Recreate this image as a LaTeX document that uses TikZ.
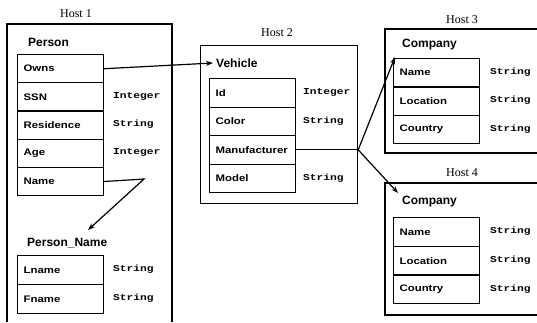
\documentclass[tikz,border=0pt]{standalone}
\usepackage{fontspec}
\setmainfont{Liberation Serif}
\newfontfamily\fldfont[FakeStretch=1.2]{Liberation Sans}
\newfontfamily\ttlfont{Liberation Sans}
\newfontfamily\typfont[FakeStretch=1.25]{Liberation Mono}
\usetikzlibrary{arrows.meta}
\begin{document}
\begin{tikzpicture}[x=1pt,y=-1pt,
  hostline/.style={line width=1.2pt},
  hostlbl/.style={font=\fontsize{12}{12}\selectfont, inner sep=0pt},
  ttl/.style={font=\ttlfont\bfseries\fontsize{12}{12}\selectfont, anchor=west, inner xsep=1pt, inner ysep=1pt},
  cell/.style={draw, line width=1.2pt, anchor=north west, minimum width=86pt, text width=74pt,
     inner xsep=6pt, inner ysep=0pt, align=left, font=\fldfont\bfseries\fontsize{9.5}{10}\selectfont},
  typ/.style={anchor=west, inner sep=0pt, font=\typfont\bfseries\fontsize{9}{9}\selectfont},
  conn/.style={line width=1.2pt, -{Stealth[length=7pt,width=5pt]}}]
\useasboundingbox (0,0) rectangle (537,322);

% ---------------- Host 1 ----------------
\node[hostlbl] (h1lbl) at (76,14) {Host 1};
\draw[hostline] (7,322) -- (7,24) -- (172,24) -- (172,322);
\node[ttl] (person) at (27,42) {Person};
\begin{scope}[every node/.append style={minimum height=28.2pt}]
\node[cell] (owns) at (17,54) {Owns};
\node[cell] (ssn) at (17,82.2) {SSN};
\node[cell] (res) at (17,110.4) {Residence};
\node[cell] (age) at (17,138.6) {Age};
\node[cell] (name) at (17,166.8) {Name};
\end{scope}
\node[typ] (tssn) at (113,96.3) {Integer};
\node[typ] (tres) at (113,124.5) {String};
\node[typ] (tage) at (113,152.7) {Integer};

\node[ttl] (pn) at (26,243) {Person\_Name};
\begin{scope}[every node/.append style={minimum height=29pt}]
\node[cell] (lname) at (17,255) {Lname};
\node[cell] (fname) at (17,284) {Fname};
\end{scope}
\node[typ] (tlname) at (113,269.5) {String};
\node[typ] (tfname) at (113,298.5) {String};

% ---------------- Host 2 ----------------
\node[hostlbl] (h2lbl) at (277,33) {Host 2};
\node[draw, line width=1.2pt, anchor=north west, minimum width=157pt, minimum height=158pt, inner sep=0pt] (h2) at (200,45) {};
\node[ttl, inner xsep=3pt] (vehicle) at (213,63) {Vehicle};
\begin{scope}[every node/.append style={minimum height=28.5pt}]
\node[cell] (vid) at (209,78) {Id};
\node[cell] (vcolor) at (209,106.5) {Color};
\node[cell] (manuf) at (209,135) {Manufacturer};
\node[cell] (model) at (209,163.5) {Model};
\end{scope}
\node[typ] (tid) at (303,92.25) {Integer};
\node[typ] (tcolor) at (303,120.75) {String};
\node[typ] (tmodel) at (303,177.75) {String};

% ---------------- Host 3 ----------------
\node[hostlbl] (h3lbl) at (462,20) {Host 3};
\draw[hostline] (537,29) -- (385,29) -- (385,153) -- (537,153);
\node[ttl] (comp3) at (401,45) {Company};
\begin{scope}[every node/.append style={minimum height=28.3pt, minimum width=85pt}]
\node[cell] (c3name) at (393,58) {Name};
\node[cell] (c3loc) at (393,86.3) {Location};
\node[cell] (c3cty) at (393,114.6) {Country};
\end{scope}
\node[typ] (t3a) at (490,72.2) {String};
\node[typ] (t3b) at (490,100.5) {String};
\node[typ] (t3c) at (490,128.8) {String};

% ---------------- Host 4 ----------------
\node[hostlbl] (h4lbl) at (462,173) {Host 4};
\draw[hostline] (537,183) -- (385,183) -- (385,315) -- (537,315);
\node[ttl] (comp4) at (401,202) {Company};
\begin{scope}[every node/.append style={minimum height=28.7pt, minimum width=85pt}]
\node[cell] (c4name) at (393,217) {Name};
\node[cell] (c4loc) at (393,245.7) {Location};
\node[cell] (c4cty) at (393,274.4) {Country};
\end{scope}
\node[typ] (t4a) at (490,231.3) {String};
\node[typ] (t4b) at (490,260) {String};
\node[typ] (t4c) at (490,288.7) {String};

% ---------------- connectors ----------------
\coordinate (nbend) at (144,179);
\coordinate (pntip) at (88,230);
\coordinate (junc) at (manuf.east -| h2.east);
\coordinate (c3tip) at (395,57);
\coordinate (c4tip) at (398,193);

\draw[conn] (owns.east) -- (vehicle.west);
\draw[conn] (name.east) -- (nbend) -- (pntip);
\draw[line width=1.2pt] (manuf.east) -- (junc);
\draw[conn] (junc) -- (c3tip);
\draw[conn] (junc) -- (c4tip);
\end{tikzpicture}
\end{document}
